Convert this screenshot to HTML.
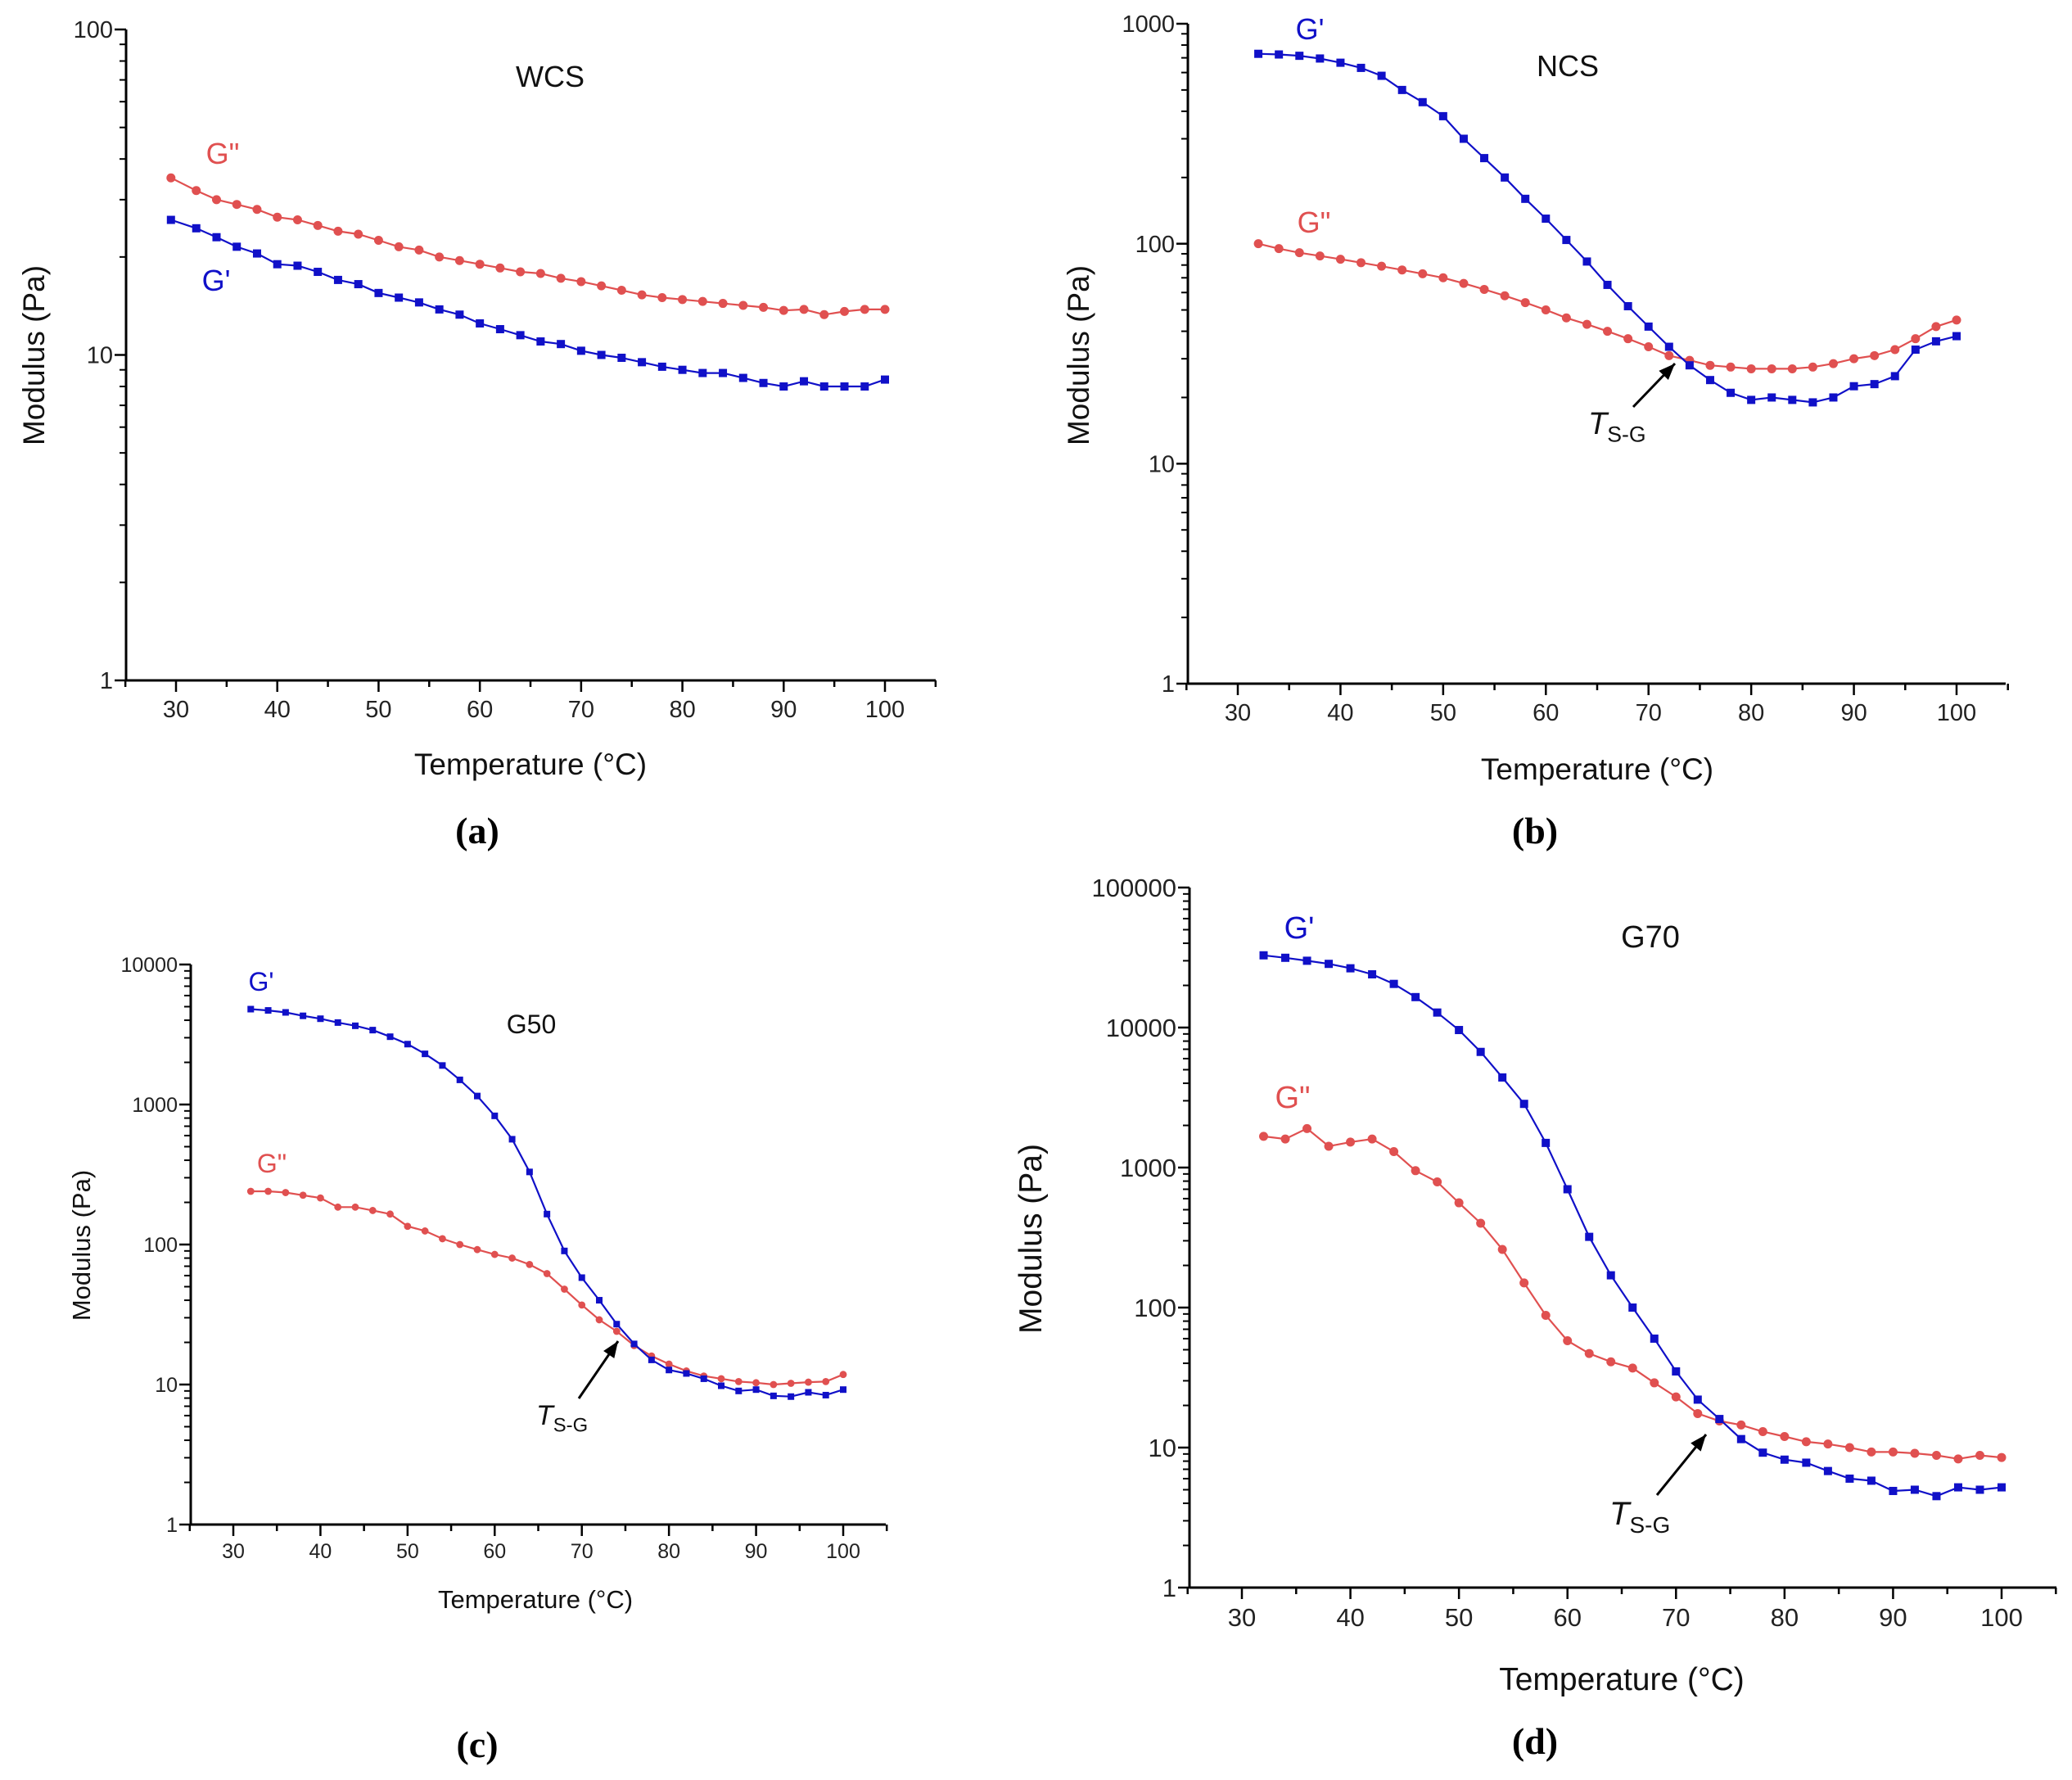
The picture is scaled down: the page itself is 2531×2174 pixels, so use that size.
<!DOCTYPE html>
<html><head><meta charset="utf-8">
<style>
html,body{margin:0;padding:0;background:#fff;}
svg{display:block;font-family:"Liberation Sans",sans-serif;}
</style></head>
<body>
<svg id="fig" width="2531" height="2174" viewBox="0 0 2531 2174" xmlns="http://www.w3.org/2000/svg">
<rect x="0" y="0" width="2531" height="2174" fill="#fff"/>
</svg>
<script>
// ---- data ----
const tempsA = [29.5,32,34,36,38,40,42,44,46,48,50,52,54,56,58,60,62,64,66,68,70,72,74,76,78,80,82,84,86,88,90,92,94,96,98,100];
const gppA = [35,32,30,29,28,26.5,26,25,24,23.5,22.5,21.5,21,20,19.5,19,18.5,18,17.8,17.2,16.8,16.3,15.8,15.3,15,14.8,14.6,14.4,14.2,14,13.7,13.8,13.3,13.6,13.8,13.8];
const gpA = [26,24.5,23,21.5,20.5,19,18.8,18,17,16.5,15.5,15,14.5,13.8,13.3,12.5,12,11.5,11,10.8,10.3,10,9.8,9.5,9.2,9,8.8,8.8,8.5,8.2,8,8.3,8,8,8,8.4];

const temps = [32,34,36,38,40,42,44,46,48,50,52,54,56,58,60,62,64,66,68,70,72,74,76,78,80,82,84,86,88,90,92,94,96,98,100];
const gpB = [730,725,715,695,665,630,580,500,440,380,300,245,200,160,130,104,83,65,52,42,34,28,24,21,19.5,20,19.5,19,20,22.5,23,25,33,36,38];
const gppB = [100,95,91,88,85,82,79,76,73,70,66,62,58,54,50,46,43,40,37,34,31,29.5,28,27.5,27,27,27,27.5,28.5,30,31,33,37,42,45];

const gpC = [4800,4700,4550,4300,4100,3850,3650,3400,3050,2700,2300,1900,1500,1150,830,565,330,165,90,58,40,27,19.5,15,12.7,12,11,9.8,9,9.2,8.3,8.2,8.8,8.4,9.2];
const gppC = [240,240,235,225,215,185,185,175,165,135,125,110,100,92,85,80,72,62,48,37,29,24,19,16,14,12.5,11.5,11,10.5,10.3,10,10.2,10.4,10.5,11.8];

const gpD = [32800,31500,30000,28500,26500,24000,20500,16500,12800,9600,6700,4400,2850,1500,700,320,170,100,60,35,22,16,11.5,9.2,8.2,7.8,6.8,6,5.8,4.9,5,4.5,5.2,5,5.2];
const gppD = [1670,1600,1900,1420,1520,1600,1300,950,790,560,400,260,150,88,58,47,41,37,29,23,17.5,15.5,14.5,13,12,11,10.6,10,9.3,9.3,9.1,8.8,8.3,8.8,8.5];

const xTicks = [30,40,50,60,70,80,90,100];

const NS = "http://www.w3.org/2000/svg";
const svg = document.getElementById('fig');
function mk(tag, attrs, parent){
  const e = document.createElementNS(NS, tag);
  for (const k in attrs) e.setAttribute(k, attrs[k]);
  (parent||svg).appendChild(e);
  return e;
}
const BLUE = "#1010c8", RED = "#e05050";

function panel(p){
  const g = mk('g', {});
  
  
  const X = t => p.x30 + (t-30)*(p.x100-p.x30)/70;
  const Y = v => p.yBot - Math.log10(v)*(p.yBot-p.yTop)/p.decades;
  // axes
  const yax = mk('line', {x1:p.ax, y1:p.yTop, x2:p.ax, y2:p.yBot, stroke:'#000','stroke-width':3}, g);
  
  
  const xax = mk('line', {x1:p.ax, y1:p.yBot, x2:p.axR, y2:p.yBot, stroke:'#000','stroke-width':3}, g);
  
  
  // y ticks
  for (let d=0; d<=p.decades; d++){
    const v = Math.pow(10,d), y = Y(v);
    mk('line',{x1:p.ax-14,y1:y,x2:p.ax,y2:y,stroke:'#000','stroke-width':2.5},g);
    const t = mk('text',{x:p.ax-16,y:y+p.fs*0.35,'text-anchor':'end','font-size':p.fs,fill:'#222'},g);
    t.textContent = String(v);
    
    
    if (d<p.decades) for (let m=2;m<=9;m++){
      const ym = Y(v*m);
      mk('line',{x1:p.ax-8,y1:ym,x2:p.ax,y2:ym,stroke:'#000','stroke-width':2},g);
    }
  }
  // x ticks
  for (let t=25; t<=105; t+=5){
    const x = X(t), major = (t%10===0);
    mk('line',{x1:x,y1:p.yBot,x2:x,y2:p.yBot+(major?14:8),stroke:'#000','stroke-width':2.5},g);
  }
  xTicks.forEach(t=>{
    const lb = mk('text',{x:X(t),y:p.yBot+16+p.fs,'text-anchor':'middle','font-size':p.fs,fill:'#222'},g);
    lb.textContent = String(t);
    
    
  });
  // axis titles
  const xt = mk('text',{x:p.xtX,y:p.xtY,'text-anchor':'middle','font-size':p.tfs,fill:'#111'},g);
  xt.textContent = 'Temperature (°C)';
  
  
  const yt = mk('text',{x:0,y:0,'text-anchor':'middle','font-size':p.tfs,fill:'#111',transform:`translate(${p.ytX},${p.ytY}) rotate(-90)`},g);
  yt.textContent = 'Modulus (Pa)';
  
  
  // series
  [[p.gpp,RED,'circle','g-double-prime-series'],[p.gp,BLUE,'square','g-prime-series']].forEach(([vals,col,shape,nm])=>{
    const sg = mk('g',{},g);
    
    
    const pts = vals.map((v,i)=>X(p.t[i]).toFixed(1)+','+Y(v).toFixed(1)).join(' ');
    mk('polyline',{points:pts,fill:'none',stroke:col,'stroke-width':2.2},sg);
    vals.forEach((v,i)=>{
      const cx = X(p.t[i]), cy = Y(v);
      let m;
      if (shape==='circle') m = mk('circle',{cx:cx,cy:cy,r:p.ms*0.55,fill:col},sg);
      else m = mk('rect',{x:cx-p.ms/2,y:cy-p.ms/2,width:p.ms,height:p.ms,fill:col},sg);
      
      
    });
  });
  // labels
  const lab = (txt,x,y,col,fs,nm)=>{
    const e = mk('text',{x:x,y:y,'text-anchor':'middle','font-size':fs,fill:col},g);
    e.textContent = txt;
    
    
  };
  lab(p.title,p.tiX,p.tiY,'#111',p.lfs,'panel-title');
  lab("G'",p.gpX,p.gpY,BLUE,p.lfs,'g-prime-label');
  lab('G"',p.gppX,p.gppY,RED,p.lfs,'g-double-prime-label');
  const pl = mk('text',{x:p.plX,y:p.plY,'text-anchor':'middle','font-size':46,'font-weight':'bold','font-family':'"Liberation Serif",serif',fill:'#000'},g);
  pl.textContent = p.letter;
  
  
  if (p.arrow){
    const a = p.arrow;
    const ag = mk('g',{},g);
    
    
    mk('line',{x1:a[0],y1:a[1],x2:a[2],y2:a[3],stroke:'#000','stroke-width':3},ag);
    const ang = Math.atan2(a[3]-a[1],a[2]-a[0]), L=20, W=8;
    const bx = a[2]-L*Math.cos(ang), by = a[3]-L*Math.sin(ang);
    mk('polygon',{points:`${a[2]},${a[3]} ${bx-W*Math.sin(ang)},${by+W*Math.cos(ang)} ${bx+W*Math.sin(ang)},${by-W*Math.cos(ang)}`,fill:'#000'},ag);
    const tx = mk('text',{x:a[4],y:a[5],'font-size':p.afs,fill:'#111'},ag);
    tx.innerHTML = `<tspan font-style="italic">T</tspan><tspan font-size="${p.afs*0.7}" dy="${p.afs*0.25}">S-G</tspan>`;
  }
}

panel({id:'panel-a-wcs',t:tempsA,gp:gpA,gpp:gppA,decades:2,ax:154,axR:1143,yTop:36,yBot:831,x30:215,x100:1081,
  fs:29,tfs:37,lfs:36,ms:10,title:'WCS',tiX:672,tiY:106,gpX:264,gpY:355,gppX:272,gppY:200,
  xtX:648,xtY:946,ytX:54,ytY:434,plX:583,plY:1030,letter:'(a)'});
panel({id:'panel-b-ncs',t:temps,gp:gpB,gpp:gppB,decades:3,ax:1451,axR:2450,yTop:29,yBot:835,x30:1512,x100:2390,
  fs:29,tfs:37,lfs:36,ms:10,title:'NCS',tiX:1915,tiY:93,gpX:1600,gpY:48,gppX:1605,gppY:284,
  xtX:1951,xtY:952,ytX:1330,ytY:434,plX:1875,plY:1030,letter:'(b)',
  arrow:[1995,497,2046,444,1940,530],afs:38});
panel({id:'panel-c-g50',t:temps,gp:gpC,gpp:gppC,decades:4,ax:233,axR:1082,yTop:1178,yBot:1862,x30:285,x100:1030,
  fs:25,tfs:31,lfs:32,ms:8,title:'G50',tiX:649,tiY:1262,gpX:319,gpY:1210,gppX:332,gppY:1432,
  xtX:654,xtY:1964,ytX:110,ytY:1521,plX:583,plY:2146,letter:'(c)',
  arrow:[707,1708,755,1638,655,1740],afs:34});
panel({id:'panel-d-g70',t:temps,gp:gpD,gpp:gppD,decades:5,ax:1453,axR:2512,yTop:1084,yBot:1939,x30:1517,x100:2445,
  fs:31,tfs:39,lfs:38,ms:10,title:'G70',tiX:2016,tiY:1157,gpX:1587,gpY:1146,gppX:1579,gppY:1353,
  xtX:1981,xtY:2064,ytX:1272,ytY:1513,plX:1875,plY:2142,letter:'(d)',
  arrow:[2024,1826,2084,1752,1966,1862],afs:40});
</script>
</body></html>
